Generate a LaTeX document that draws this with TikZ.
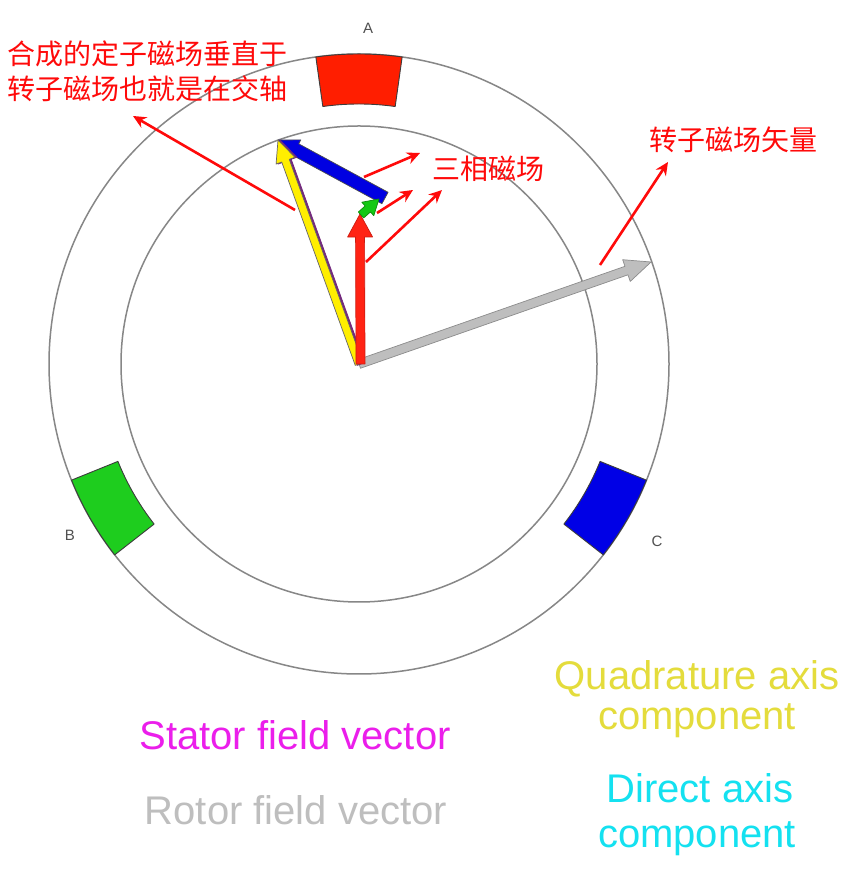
\documentclass[tikz,border=0pt]{standalone}
\usepackage{fontspec}
\setmainfont{Liberation Sans}
\newfontfamily\cjk{Noto Sans CJK SC}
\usetikzlibrary{calc,arrows.meta}
\definecolor{ringgray}{RGB}{135,135,135}
\definecolor{coilline}{RGB}{60,60,60}
\definecolor{coilred}{RGB}{255,30,0}
\definecolor{coilgreen}{RGB}{30,205,30}
\definecolor{coilblue}{RGB}{0,0,230}
\definecolor{notered}{RGB}{255,10,10}
\definecolor{polegray}{RGB}{80,80,80}
\definecolor{vecgray}{RGB}{190,190,190}
\definecolor{vecgrayline}{RGB}{140,140,140}
\definecolor{vecyellow}{RGB}{255,238,0}
\definecolor{vecpurple}{RGB}{115,40,125}
\definecolor{vecred}{RGB}{255,35,20}
\definecolor{vecgreen}{RGB}{20,200,20}
\definecolor{vecblue}{RGB}{0,0,225}
\definecolor{qyellow}{RGB}{228,220,60}
\definecolor{smagenta}{RGB}{235,30,235}
\definecolor{dcyan}{RGB}{20,225,240}
\definecolor{rgray}{RGB}{190,190,190}
% #1 tail, #2 tip, #3 half shaft width, #4 half head width, #5 head length, #6 fill, #7 outline
\newcommand\fatarrow[7]{%
  \coordinate (fa-h) at ($(#2)!#5!(#1)$);
  \path[fill=#6,draw=#7,line width=0.7pt,line join=round]
    ($(#1)!#3!90:(#2)$) -- ($(fa-h)!#3!-90:(#1)$) -- ($(fa-h)!#4!-90:(#1)$) -- (#2)
    -- ($(fa-h)!#4!90:(#1)$) -- ($(fa-h)!#3!90:(#1)$) -- ($(#1)!#3!-90:(#2)$) -- cycle;
}
\begin{document}
\begin{tikzpicture}[x=1pt,y=1pt,
  ring/.style={draw=ringgray,line width=1.5pt},
  coil/.style={draw=coilline,line width=0.9pt,line join=round},
  note/.style={draw=notered,line width=2.6pt,-{Stealth[length=13pt,width=12pt]}},
  cn/.style={font=\cjk\fontsize{28}{34}\selectfont,text=notered,inner sep=0pt,anchor=base west},
  en/.style={font=\fontsize{40}{46}\selectfont,inner sep=0pt,anchor=base},
  pole/.style={font=\fontsize{15}{18}\selectfont,text=polegray,inner sep=0pt}]
\fill[white] (0,0) rectangle (855,870);
\useasboundingbox (0,0) rectangle (855,870);
\coordinate (O) at (359,506);
% stator rings
\draw[ring] (O) circle[radius=310pt];
\draw[ring] (O) circle[radius=238pt];
% coils
\draw[coil,fill=coilred] ($(O)+(82:310pt)$) arc[start angle=82,end angle=98,radius=310pt]
  -- ($(O)+(98:260pt)$) arc[start angle=98,end angle=82,radius=260pt] -- cycle;
\draw[coil,fill=coilgreen] ($(O)+(202:310pt)$) arc[start angle=202,end angle=218,radius=310pt]
  -- ($(O)+(218:260pt)$) arc[start angle=218,end angle=202,radius=260pt] -- cycle;
\draw[coil,fill=coilblue] ($(O)+(322:310pt)$) arc[start angle=322,end angle=338,radius=310pt]
  -- ($(O)+(338:260pt)$) arc[start angle=338,end angle=322,radius=260pt] -- cycle;
% pole labels
\node[pole] (lA) at (368,842) {A};
\node[pole] (lB) at (70,335) {B};
\node[pole] (lC) at (657,329) {C};
% vector end points
\coordinate (G) at (651,608);
\coordinate (Y) at (278,730);
\coordinate (Op) at (361,506);
\coordinate (Yp) at (280,730);
\coordinate (Bt) at (385,672);
\coordinate (R) at (360,656);
\coordinate (Rt) at (360.5,506);
\coordinate (Gs) at (361,655);
\coordinate (Gr) at (379,671);
% vectors
\fatarrow{O}{G}{4.5pt}{11.5pt}{26pt}{vecgray}{vecgrayline}
\fatarrow{Bt}{Y}{6.5pt}{11pt}{20pt}{vecblue}{black!70}
\fatarrow{Op}{Yp}{4pt}{10pt}{22pt}{vecpurple}{vecpurple}
\fatarrow{O}{Y}{4pt}{10pt}{22pt}{vecyellow}{black!60}
\fatarrow{Rt}{R}{4.5pt}{12.5pt}{23pt}{vecred}{vecred!80!black}
\fatarrow{Gs}{Gr}{4pt}{9pt}{15pt}{vecgreen}{vecgreen!70!black}
% annotation texts
\node[cn] (t1) at (7,805) {合成的定子磁场垂直于};
\node[cn] (t2) at (7,770) {转子磁场也就是在交轴};
\node[cn] (t3) at (432,690) {三相磁场};
\node[cn] (t4) at (649,719) {转子磁场矢量};
% annotation arrows
\coordinate (a1s) at (295,660); \coordinate (a1e) at (133,754);
\coordinate (a2s) at (364,693); \coordinate (a2e) at (420,717);
\coordinate (a3s) at (377,657); \coordinate (a3e) at (413,680);
\coordinate (a4s) at (366,608); \coordinate (a4e) at (442,680);
\coordinate (a5s) at (600,605); \coordinate (a5e) at (668,708);
\draw[note] (a1s) -- (a1e);
\draw[note] (a2s) -- (a2e);
\draw[note] (a3s) -- (a3e);
\draw[note] (a4s) -- (a4e);
\draw[note] (a5s) -- (a5e);
% legend texts
\node[en,text=qyellow] (q1) at (697,180) {Quadrature axis};
\node[en,text=qyellow] (q2) at (697,140) {component};
\node[en,text=smagenta] (s1) at (295,120) {Stator field vector};
\node[en,text=dcyan] (d1) at (700,67) {Direct axis};
\node[en,text=dcyan] (d2) at (697,23) {component};
\node[en,text=rgray] (r1) at (296,45) {Rotor field vector};
\end{tikzpicture}
\end{document}
